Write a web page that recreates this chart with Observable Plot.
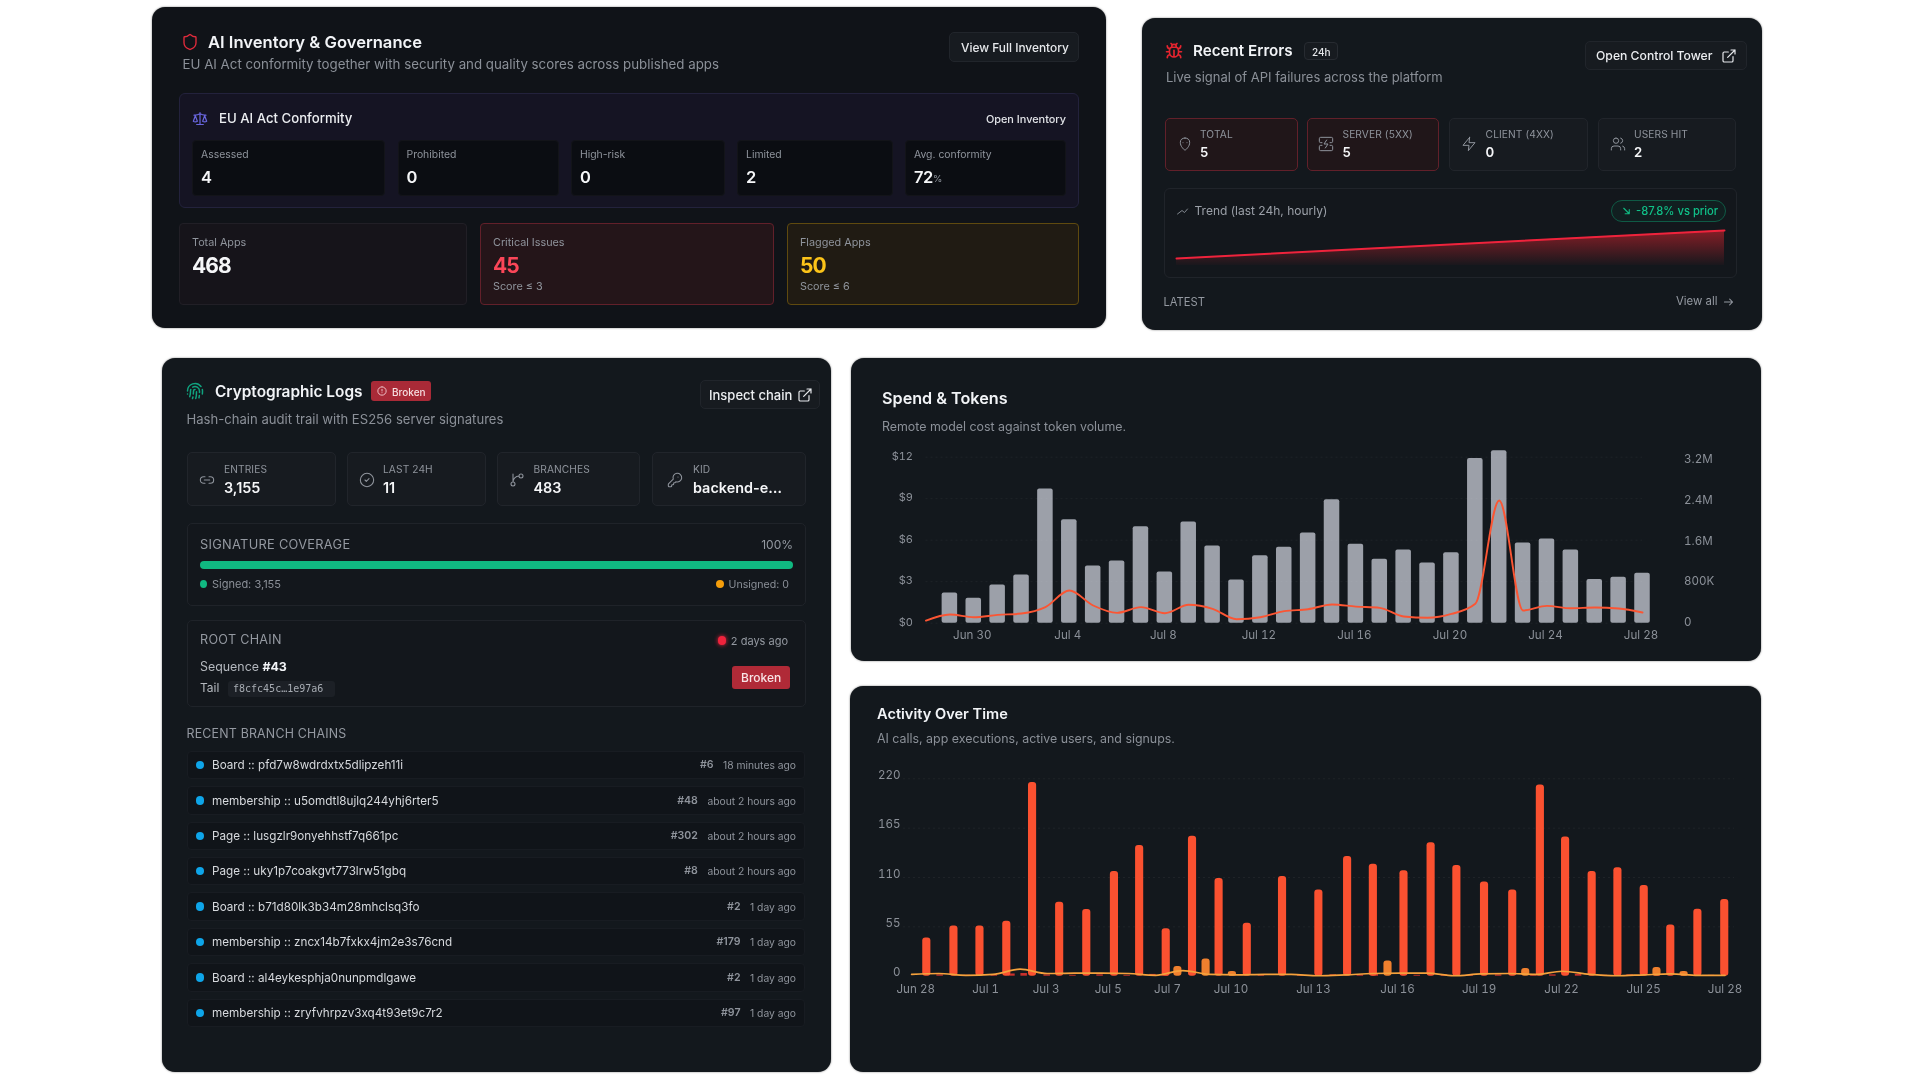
<!DOCTYPE html>
<html><head><meta charset="utf-8">
<script src="https://cdn.jsdelivr.net/npm/d3@7"></script>
<script src="https://cdn.jsdelivr.net/npm/@observablehq/plot@0.6"></script>
<style>
html,body{margin:0;padding:0;background:#fff;width:1920px;height:1080px;overflow:hidden}
#root{position:absolute;left:0;top:0;width:1920px;height:1080px;font-family:Inter,"Noto Sans",sans-serif;filter:blur(.6px)}
#root div,#root span.t{position:absolute;box-sizing:border-box}
#root span.t{white-space:nowrap;line-height:1}
#root svg.ic{position:absolute;fill:none;stroke-linecap:round;stroke-linejoin:round}
.panel{background:#13181d;border-radius:13px;box-shadow:0 0 2px rgba(0,0,0,.55)}
.cell{background:#171b20;border:1px solid #21252b;border-radius:5px}
.btn{background:#171b20;border:1px solid #21252b;border-radius:5px}
.plotbox svg{display:block;position:absolute;left:0;top:0}
</style></head><body><div id="root"></div>
<script>
// ---------- data ----------
const conformityLabels=["Assessed","Prohibited","High-risk","Limited","Avg. conformity"];
const conformityValues=["4","0","0","2","72"];
const governanceLabels=["Total Apps","Critical Issues","Flagged Apps"];
const governanceValues=["468","45","50"];
const errorLabels=["TOTAL","SERVER (5XX)","CLIENT (4XX)","USERS HIT"];
const errorValues=["5","5","0","2"];
const trendHours=[0,23];
const trendCounts=[1,5];
const logLabels=["ENTRIES","LAST 24H","BRANCHES","KID"];
const logValues=["3,155","11","483","backend-e…"];
const signedEntries=3155;
const branchNames=["Board :: pfd7w8wdrdxtx5dlipzeh11i","membership :: u5omdtl8ujlq244yhj6rter5","Page :: lusgzlr9onyehhstf7q661pc","Page :: uky1p7coakgvt773lrw51gbq","Board :: b71d80lk3b34m28mhclsq3fo","membership :: zncx14b7fxkx4jm2e3s76cnd","Board :: al4eykesphja0nunpmdlgawe","membership :: zryfvhrpzv3xq4t93et9c7r2"];
const branchSeqs=["#6","#48","#302","#8","#2","#179","#2","#97"];
const branchAges=["18 minutes ago","about 2 hours ago","about 2 hours ago","about 2 hours ago","1 day ago","1 day ago","1 day ago","1 day ago"];
// Spend & Tokens: one value per day, starting Jun 28
const spendTokens=[0,592,488,748,943,2621,2023,1119,1216,1886,1002,1977,1509,846,1320,1483,1763,2413,1541,1249,1431,1177,1379,3219,3369,1567,1645,1431,852,898,976];
const spendCost=[0.19,0.63,0.43,0.60,0.70,1.16,2.36,1.28,0.75,1.16,0.72,1.33,1.04,0.29,0.43,0.87,1.01,1.35,1.20,1.11,0.48,0.39,0.67,1.40,8.87,0.92,1.25,1.08,1.13,1.06,0.77];
const spendTicks=["2025-06-30","2025-07-04","2025-07-08","2025-07-12","2025-07-16","2025-07-20","2025-07-24","2025-07-28"];
const callDays=[0.56,1.56,2.52,3.51,4.46,5.46,6.46,7.48,8.41,9.39,10.36,11.34,12.38,13.68,15.02,16.08,17.03,18.16,19.16,20.11,21.13,22.17,23.19,24.12,25.1,26.05,27.02,28.0,29.0,29.99];
const callValues=[42.7,56,56,61.3,216,82.5,74.3,116.7,145.7,53,156,108.9,59,111,96,133.4,124.9,117.4,148.6,123.4,105,96,213,155,116.7,121,101,57,74.7,85.5];
const execDays=[9.82,10.86,11.83,17.57,22.65,27.49,28.49];
const execValues=[10.8,19.3,5.2,17,8.5,9.7,5.2];
const signupDays=[1.05,2.05,3.05,3.7,4.15,5.0,5.95,6.95,7.95,8.9,9.35,11.85,12.9,14.35,15.55,16.55,17.1,18.65,19.65,20.6,21.65,22.95,23.65,24.6,25.55,26.5,27.5,28.5,29.5];
const signupValues=[1.5,1,1.5,2.5,3,1.5,1,1.5,1,2,1.5,2,1,1,1.5,1.5,2,1,1.5,1,1.5,2,1.5,2,1,1.5,1,1.5,1];
const usersLine=[2,3,1,2,7.8,3,3.5,3.5,3,1,6.3,2,1.5,2,2,.5,1.5,3,3.5,3.5,.5,2.5,3,2,5.5,2,.5,1.5,2.5,1,1];
const activityTickDays=[0.15,2.73,4.96,7.25,9.44,11.78,14.82,17.92,20.93,23.97,27.0,30.0];
const activityTickLabels=["Jun 28","Jul 1","Jul 3","Jul 5","Jul 7","Jul 10","Jul 13","Jul 16","Jul 19","Jul 22","Jul 25","Jul 28"];
const activityYTicks=[0,55,110,165,220];
const tokenTicks=[0,800,1600,2400,3200];
const costTicks=[0,3,6,9,12];

// ---------- html helpers ----------
const root=document.getElementById("root");
function box(x1,y1,x2,y2,cls,css=""){const d=document.createElement("div");d.className=cls||"";d.style.cssText=`left:${x1}px;top:${y1}px;width:${x2-x1}px;height:${y2-y1}px;${css}`;root.appendChild(d);return d}
function txt(x,cy,s,size,color,weight=400,anchor="l",extra=""){const e=document.createElement("span");e.className="t";e.textContent=s;const tr=anchor==="r"?"translate(-100%,-50%)":"translateY(-50%)";e.style.cssText=`left:${x}px;top:${cy}px;font-size:${size}px;color:${color};font-weight:${weight};transform:${tr};${extra}`;root.appendChild(e);return e}
const P={shield:"M20 13c0 5-3.5 7.5-7.66 8.95a1 1 0 0 1-.67-.01C7.5 20.5 4 18 4 13V6a1 1 0 0 1 1-1c2 0 4.5-1.2 6.24-2.72a1.17 1.17 0 0 1 1.52 0C14.51 3.81 17 5 19 5a1 1 0 0 1 1 1z",
ext:"M15 3h6v6M10 14 21 3M18 13v6a2 2 0 0 1-2 2H5a2 2 0 0 1-2-2V8a2 2 0 0 1 2-2h6",
scale:"m16 16 3-8 3 8c-.87.65-1.92 1-3 1s-2.13-.35-3-1ZM2 16l3-8 3 8c-.87.65-1.92 1-3 1s-2.13-.35-3-1ZM7 21h10M12 3v18M3 7h2c2 0 5-1 7-2 2 1 5 2 7 2h2",
bug:"m8 2 1.88 1.88M14.12 3.88 16 2M9 7.13v-1a3 3 0 1 1 6 0v1M12 20c-3.3 0-6-2.7-6-6v-3a4 4 0 0 1 4-4h4a4 4 0 0 1 4 4v3c0 3.3-2.7 6-6 6M12 20v-9M6.53 9C4.6 8.8 3 7.1 3 5M6 13H2M3 21c0-2.1 1.7-3.9 3.8-4M20.97 5c0 2.1-1.6 3.8-3.5 4M22 13h-4M17.2 17c2.1.1 3.8 1.9 3.8 4",
zap:"M13 2 3 14h9l-1 8 10-12h-9l1-8z",
users:"M16 21v-2a4 4 0 0 0-4-4H6a4 4 0 0 0-4 4v2M16 3.13a4 4 0 0 1 0 7.75M22 21v-2a4 4 0 0 0-3-3.87M9 3a4 4 0 1 0 0 8a4 4 0 1 0 0-8",
link:"M9 17H7A5 5 0 0 1 7 7h2M15 7h2a5 5 0 1 1 0 10h-2M8 12h8",
check:"M12 2a10 10 0 1 0 0 20a10 10 0 1 0 0-20M9 12l2 2 4-4",
branch:"M6 3v12M18 9a3 3 0 1 0 0-6 3 3 0 0 0 0 6M6 21a3 3 0 1 0 0-6 3 3 0 0 0 0 6M15 6a9 9 0 0 0-9 9",
key:"M2.586 17.414A2 2 0 0 0 2 18.828V21a1 1 0 0 0 1 1h3a1 1 0 0 0 1-1v-1a1 1 0 0 1 1-1h1a1 1 0 0 0 1-1v-1a1 1 0 0 1 1-1h.172a2 2 0 0 0 1.414-.586l.814-.814a6.5 6.5 0 1 0-4-4zM16.5 7.5h.01",
finger:"M12 10a2 2 0 0 0-2 2c0 1.02-.1 2.51-.26 4M14 13.12c0 2.38 0 6.38-1 8.88M17.29 21.02c.12-.6.43-2.3.5-3.02M2 12a10 10 0 0 1 18-6M2 16h.01M21.8 16c.2-2 .131-5.354 0-6M5 19.5C5.5 18 6 15 6 12a6 6 0 0 1 .34-2M8.65 22c.21-.66.45-1.32.57-2M9 6.8a6 6 0 0 1 9 5.2v2",
alert:"M12 2a10 10 0 1 0 0 20a10 10 0 1 0 0-20M12 8v4M12 16h.01",
arrow:"M5 12h14M14 7l5 5-5 5",
trend:"M22 8l-6 7-5-4-9 7",
down:"M6 6l12 12M18 9v9H9",
server:"M6 10H4a2 2 0 0 1-2-2V4a2 2 0 0 1 2-2h16a2 2 0 0 1 2 2v4a2 2 0 0 1-2 2h-2M6 14H4a2 2 0 0 0-2 2v4a2 2 0 0 0 2 2h16a2 2 0 0 0 2-2v-4a2 2 0 0 0-2-2h-2M13 6l-4 6h6l-4 6",
skull:"M12 3c-4.4 0-7 2.6-7 6.5 0 3 1 5.6 3 8 1 1.2 2.4 3.5 4 3.5s3-2.300 4-3.500c2-2.400 3-5 3-8C19 5.600 16.400 3 12 3zM9 10h.01M15 10h.01"};
function icon(x1,y1,x2,y2,name,color,sw=1.8){const ns="http://www.w3.org/2000/svg";const s=document.createElementNS(ns,"svg");s.setAttribute("class","ic");s.setAttribute("viewBox","0 0 24 24");s.style.cssText=`left:${x1}px;top:${y1}px;width:${x2-x1}px;height:${y2-y1}px;stroke:${color};stroke-width:${sw}`;const p=document.createElementNS(ns,"path");p.setAttribute("d",P[name]);s.appendChild(p);root.appendChild(s)}
const C={title:"#f2f4f7",sub:"#8b9098",label:"#8f949c",val:"#f5f6f8",dim:"#9499a1"};

// ---------- panel A: AI Inventory & Governance ----------
box(152,7,1106,328,"panel","background:#101318");
icon(181,33,199,51,"shield","#e02b3c");
txt(208,41.5,"AI Inventory & Governance",16.6,C.title,600);
txt(182.5,64.5,"EU AI Act conformity together with security and quality scores across published apps",13.3,C.sub);
box(949,32,1079,62,"btn");
txt(961,47.5,"View Full Inventory",11.9,"#e6e8eb",500);
box(179,93,1079,208,"", "background:#151423;border:1px solid #23223c;border-radius:6px");
icon(192,110,208,127,"scale","#6a67e0");
txt(219,118.5,"EU AI Act Conformity",13.2,"#eceef1",500);
txt(1066,118.5,"Open Inventory",10.9,"#e2e4e8",500,"r");
const confX=[[192,385],[397.5,559],[571,725],[737,893],[905,1066]];
conformityLabels.forEach((l,i)=>{const [a,b]=confX[i];
  box(a,140,b,196,"","background:#0b0d12;border-radius:4px;border:1px solid #131419");
  txt(a+9,154.5,l,10.4,C.label);
  txt(a+9,177,conformityValues[i],16.5,C.val,600,"l","letter-spacing:-.5px");
  if(i===4) txt(a+28,179,"%",9.5,C.label);
});
const govX=[[179,467],[480,774],[787,1079]];
const govCss=["background:#16141a;border:1px solid #211f26","background:#241519;border:1px solid #62202a","background:#201b13;border:1px solid #5f4a0f"];
const govColor=["#f5f6f8","#fb4658","#fcc419"];
const govSub=["","Score ≤ 3","Score ≤ 6"];
governanceLabels.forEach((l,i)=>{const [a,b]=govX[i];
  box(a,223,b,305,"",govCss[i]+";border-radius:4px");
  txt(a+13,242.5,l,10.8,C.label);
  txt(a+13,264.5,governanceValues[i],21,govColor[i],700,"l","letter-spacing:-.9px");
  if(govSub[i]) txt(a+13,287,govSub[i],10.8,C.label);
});

// ---------- panel B: Recent Errors ----------
box(1142,18,1762,330,"panel");
icon(1165,42,1183,60,"bug","#e5242f",2.2);
txt(1193,51,"Recent Errors",15.2,C.title,600);
box(1304,42,1338,60,"","border:1px solid #272b31;border-radius:4px;background:#171b20");
txt(1312,51.5,"24h",10,"#e6e8eb",500);
txt(1166,77,"Live signal of API failures across the platform",13,C.sub);
box(1585,41,1747,70,"btn");
txt(1596,56,"Open Control Tower",12.2,"#eceef1",500);
icon(1721,48,1737,64,"ext","#e6e8eb");
const errX=[[1165,1297.5],[1307,1438.5],[1448.6,1588],[1598,1736]];
const errLabelX=[1200,1342.5,1485.6,1634];
const errIconX=[1177,1317.5,1461,1610];
const errIcons=["skull","server","zap","users"];
errorLabels.forEach((l,i)=>{const [a,b]=errX[i];
  box(a,118,b,171,"",i<2?"background:#201619;border:1px solid #62202a;border-radius:5px":"background:#171b20;border:1px solid #21252b;border-radius:5px");
  icon(errIconX[i],136,errIconX[i]+16,152,errIcons[i],"#8f949c",1.5);
  txt(errLabelX[i],134,l,10.2,C.label,400,"l","letter-spacing:.1px");
  txt(errLabelX[i],152.5,errorValues[i],13.2,C.val,600);
});
box(1164,188,1736.5,278,"","background:#13171c;border:1px solid #20242a;border-radius:6px");
icon(1176,205,1189,217,"trend","#8f949c",1.8);
txt(1194.5,211,"Trend (last 24h, hourly)",12,"#9ba0a8");
box(1610.6,200,1726,222,"","border:1px solid #0f5a45;border-radius:11px;background:#111f20");
icon(1621,205,1632,217,"down","#10b981",2.4);
txt(1636,211.5,"-87.8% vs prior",11.2,"#10c088",500);
const trendWrap=box(1176,225,1724,265,"plotbox");
txt(1163.5,303,"LATEST",11.2,C.dim);
txt(1676,302,"View all",11.4,C.dim);
icon(1721,295,1736,309,"arrow","#9499a1");

// ---------- panel C: Cryptographic Logs ----------
box(162,358,831,1072,"panel");
icon(186,382,204,400,"finger","#10a37f",2);
txt(215,391.5,"Cryptographic Logs",15.4,C.title,600);
box(371,381,431,401,"","background:#a92a37;border-radius:3px");
icon(377,386,387,396,"alert","#f3cdd1",2.2);
txt(392,391.5,"Broken",10,"#f6dfe1",500);
box(700,380,820,409,"btn");
txt(709,395,"Inspect chain",13,"#eceef1",500);
icon(797,387,813,403,"ext","#e6e8eb");
txt(186.5,419.5,"Hash-chain audit trail with ES256 server signatures",13.1,C.sub);
const logX=[[187,336],[346.5,486],[496.6,640.5],[651.5,805.5]];
const logLabelX=[224,383,533.5,693];
const logIconX=[199,358.5,508.5,666.5];
const logIcons=["link","check","branch","key"];
logLabels.forEach((l,i)=>{const [a,b]=logX[i];
  box(a,452,b,506,"cell");
  icon(logIconX[i],472,logIconX[i]+16,488,logIcons[i],"#8f949c",1.6);
  txt(logLabelX[i],469,l,10.2,C.label,400,"l","letter-spacing:.1px");
  txt(logLabelX[i],488,logValues[i],14.4,C.val,600);
});
box(187,522.7,805.5,605.7,"","background:#13171c;border:1px solid #1f2329;border-radius:5px");
txt(200,544.5,"SIGNATURE COVERAGE",12.8,"#9499a1",400,"l","letter-spacing:.3px");
txt(793,544.5,"100%",12,"#9499a1",400,"r");
const coverWrap=box(200,560.7,793,568.3,"plotbox");
box(200,580,207,588,"","background:#10b981;border-radius:50%");
txt(212,584,"Signed: 3,155",11,"#8b9098");
box(716,580,724,588,"","background:#f59e0b;border-radius:50%");
txt(789,584.5,"Unsigned: 0",10.6,"#8b9098",400,"r");
box(187,620,805.5,707,"","background:#13171c;border:1px solid #1f2329;border-radius:5px");
txt(200,640,"ROOT CHAIN",12.6,"#9499a1",400,"l","letter-spacing:.3px");
box(717.5,636,726,644.5,"","background:#ef233c;border-radius:50%;box-shadow:0 0 4px #ef233c");
txt(788,640.5,"2 days ago",11,"#9499a1",400,"r");
const seq=txt(200,666.7,"Sequence ",12.4,"#b4b8be");
const seqB=document.createElement("b");seqB.textContent="#43";seqB.style.cssText="color:#f2f4f7;font-weight:700";seq.appendChild(seqB);
txt(200,688,"Tail",12,"#b4b8be");
box(227.6,680.7,335.5,696.7,"","background:#1c2026;border-radius:3px");
txt(233,688.7,"f8cfc45c…1e97a6",10,"#a6abb2",400,"l",'font-family:"DejaVu Sans Mono",monospace');
box(731.6,665.7,790,688.7,"","background:#b02a37;border-radius:3px");
txt(741,677.5,"Broken",12,"#f8e4e6",500);
txt(186.5,734,"RECENT BRANCH CHAINS",12.4,"#9499a1",400,"l","letter-spacing:.2px");
branchNames.forEach((n,i)=>{const top=750.7+i*35.4;
  box(187,top,805,top+28.6,"","background:#101419;border:1px solid #181c22;border-radius:4px");
  box(195.5,top+10,204,top+18.5,"","background:#0ea5e9;border-radius:50%");
  txt(212,top+15.5,n,11.7,"#d6d9dd",400);
  const age=txt(796,top+14.5,branchAges[i],10.3,"#8f949c",400,"r");
  const w=age.getBoundingClientRect().width;
  txt(796-w-9.5,top+14.5,branchSeqs[i],10.6,"#8f949c",600,"r");
});

// ---------- panel D: Spend & Tokens ----------
box(851,358,1761,661,"panel");
txt(882,397.5,"Spend & Tokens",16.2,C.title,600);
txt(882,426.7,"Remote model cost against token volume.",12.4,C.sub);
const spendWrap=box(851,440,1761,661,"plotbox");

// ---------- panel E: Activity Over Time ----------
box(850,686,1761,1072,"panel");
txt(877,713.5,"Activity Over Time",14.6,C.title,600);
txt(877,739,"AI calls, app executions, active users, and signups.",12.4,C.sub);
const activityWrap=box(850,760,1761,1016,"plotbox");

// ---------- charts ----------
const axisStyle={background:"transparent",color:"#8b9098",fontFamily:"Inter, sans-serif",fontSize:"11.6px",overflow:"visible"};
// Spend & Tokens: two plots sharing one frame, one for each y scale
const day0=Date.UTC(2025,5,28);
const spendData=spendCost.map((c,i)=>({date:new Date(day0+i*864e5),cost:c,tokens:spendTokens[i]}));
const spendFrame={width:910,height:221,marginLeft:74.5,marginRight:119,marginBottom:38.3};
const spendX={type:"utc",domain:[new Date(day0),new Date(day0+30*864e5)],axis:null};
spendWrap.appendChild(Plot.plot({...spendFrame,marginTop:19,style:axisStyle,x:spendX,y:{domain:[0,3200],axis:null,clamp:false},marks:[
  Plot.axisY({anchor:"right",ticks:tokenTicks,tickSize:0,tickPadding:41.5,label:null,dy:-.5,tickFormat:d=>d===0?"0":d<1000?d+"K":(d/1000).toFixed(1).replace(".0","")+"M"}),
  Plot.axisX({ticks:spendTicks.map(d=>new Date(d+"T00:00Z")),tickSize:0,tickPadding:8,label:null,dx:-1.5,tickFormat:d3.utcFormat("%b %-d")}),
  Plot.rect(spendData.filter(d=>d.tokens>0),{x1:d=>new Date(+d.date-7.8*36e5),x2:d=>new Date(+d.date+7.8*36e5),y1:0,y2:"tokens",fill:"#9ca0a9",rx:2})
]}));
spendWrap.appendChild(Plot.plot({...spendFrame,marginTop:16.7,style:{...axisStyle,fontSize:"11px"},x:spendX,y:{domain:[0,12],axis:null},marks:[
  Plot.gridY(costTicks,{stroke:"#fff",strokeOpacity:.05,strokeDasharray:"2,3"}),
  Plot.axisY({anchor:"left",ticks:costTicks,tickSize:0,tickPadding:13,label:null,dy:-.8,tickFormat:d=>"$"+d}),
  Plot.line(spendData,{x:"date",y:"cost",stroke:"#fb5533",strokeWidth:1.9,curve:"monotone-x"})
]}));
// Activity Over Time
const callData=callDays.map((d,i)=>({d,v:callValues[i]}));
const execData=execDays.map((d,i)=>({d,v:execValues[i]}));
const signupData=signupDays.map((d,i)=>({d,v:signupValues[i]}));
const userData=usersLine.map((v,i)=>({d:i,v}));
const tickLabel=new Map(activityTickDays.map((d,i)=>[d,activityTickLabels[i]]));
activityWrap.appendChild(Plot.plot({width:911,height:256,marginLeft:53,marginRight:27,marginTop:18.3,marginBottom:40.3,style:axisStyle,
  x:{domain:[-0.3,30.35],axis:null},y:{domain:[0,220],axis:null},marks:[
  Plot.gridY(activityYTicks.slice(1),{stroke:"#fff",strokeOpacity:.05,strokeDasharray:"2,3"}),
  Plot.axisY({ticks:activityYTicks,tickSize:0,tickPadding:3,label:null,dy:-3.5}),
  Plot.axisX({ticks:activityTickDays,tickSize:0,tickPadding:9,label:null,tickFormat:d=>tickLabel.get(d)}),
  Plot.rect(signupData,{x1:d=>d.d-.12,x2:d=>d.d+.12,y1:0,y2:"v",fill:"#c9302c"}),
  Plot.rect(execData,{x1:d=>d.d-.15,x2:d=>d.d+.15,y1:0,y2:"v",fill:"#f0802e",rx:3}),
  Plot.rect(callData,{x1:d=>d.d-.15,x2:d=>d.d+.15,y1:0,y2:"v",fill:"#fb5130",rx:3}),
  Plot.line(userData,{x:"d",y:"v",stroke:"#f5a13c",strokeWidth:1.7,curve:"monotone-x"})
]}));
// Trend sparkline with a gradient fill
const trendData=trendHours.map((h,i)=>({h,c:trendCounts[i]}));
const trendDefs=()=>{const g=d3.create("svg:defs");const lg=g.append("linearGradient").attr("id","trendFill").attr("x1",0).attr("y1",0).attr("x2",0).attr("y2",1);
  lg.append("stop").attr("offset",0).attr("stop-color","#e5242f").attr("stop-opacity",.55);
  lg.append("stop").attr("offset",1).attr("stop-color","#e5242f").attr("stop-opacity",.03);return g.node()};
trendWrap.appendChild(Plot.plot({width:548,height:40,margin:0,marginTop:5,style:{background:"transparent",overflow:"visible"},x:{domain:[0,23],axis:null},y:{domain:[0,5],axis:null},marks:[
  trendDefs,
  Plot.areaY(trendData,{x:"h",y:"c",fill:"url(#trendFill)"}),
  Plot.line(trendData,{x:"h",y:"c",stroke:"#ef233c",strokeWidth:2})
]}));
// Signature coverage
coverWrap.appendChild(Plot.plot({width:593,height:8,margin:0,style:{background:"transparent"},x:{domain:[0,signedEntries],axis:null},marks:[
  Plot.barX([signedEntries],{x:d=>d,fill:"#10b981",rx:4})
]}));
</script></body></html>
